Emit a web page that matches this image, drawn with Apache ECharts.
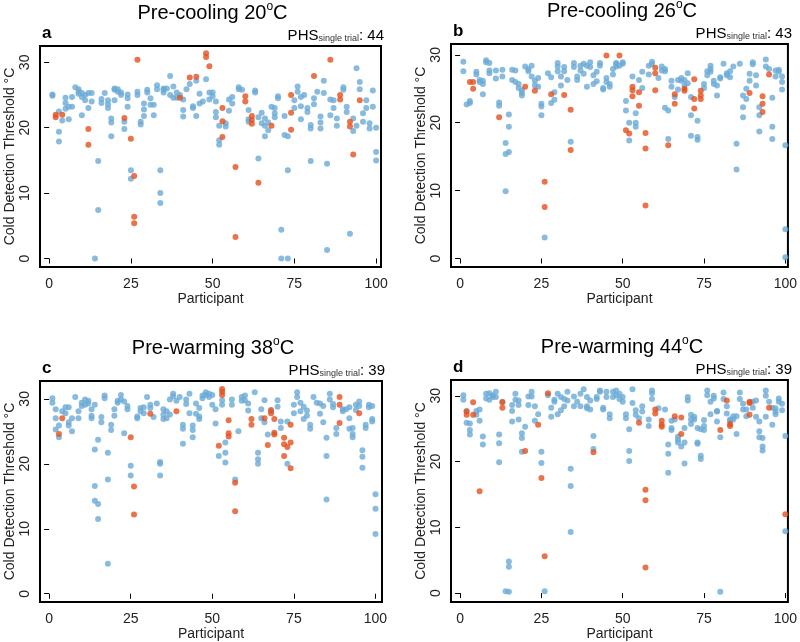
<!DOCTYPE html>
<html>
<head>
<meta charset="utf-8">
<script src="https://cdn.jsdelivr.net/npm/echarts@6/dist/echarts.min.js"></script>
<style>
  html, body { margin: 0; background: #fff; }
  #chart { width: 800px; height: 642px; }
</style>
</head>
<body>
<div id="chart"></div>
<script>
// rows are [participant, trial values...]
const cool20Blue = [
  [1,25.1,24.9],[3,22.5,19.4,17.9],[4,21.1],[5,24.6,23.8,22.9],[6,23.2,21.3],[7,24.7,23.2],[8,26.2],
  [9,25.9,25.5,25.2],[10,25.3,24.7,21.9],[11,25,24.2],[12,25.3,23],[13,25.3,24],[14,0],[15,14.9,7.4],
  [16,24.4,23.8],[17,25.3],[18,24.2,23.6,23],[19,21.4,20.8,18.7],[20,26,24.2,25.8],[21,25.9,25.5],
  [22,25.4,25],[23,20.9,19.8],[24,25.1,24.5,23.2],[25,13.5,12.2],[27,25.5,25],[28,20.9,20.5],
  [29,23.7,22.8,21.8],[30,25.8,25.4],[31,24.5,23.5],[32,21.9,23.5],[33,26.5,25.9],[34,13.5,10,8.5],
  [35,26,25.8,25.4],[36,26],[37,27.9,25],[38,26.3,24.6],[39,25.4,24.6],[40,25],[41,22.7,21.7,24.3],
  [42,25.9],[43,26.7],[44,23.3,23],[45,27.2,21.8],[46,25.2,23.7],[47,24],[48,27.4],[49,25.4,24.3],
  [50,25.4,24.8],[51,24,22.4,21.6],[52,20.3,18.1,17.4],[54,20.7,20.2],[55,24.3,22.6],[56,24.7,23.7],
  [58,26.2,25.9],[59,25.8],[61,22.7,21.3,20.9],[63,25.7,25.4],[64,21.6,15.3],[65,22.3,20.7],
  [66,21.4,20.3,18.7],[67,20.8,19.6],[68,23.2],[69,23,22.2,21.6],[70,24.8,24.5],[71,4.4,0],
  [72,21.8,18.9],[73,18.7,13.5,0],[75,24.2,23],[76,26.3,25.5],[77,24.7,23.3,21.3],[78,25],
  [79,23,22.4],[80,20.4,19.9,14.9],[81,24.5,23.6],[82,25.5],[83,21.7,20.8,19.9],[84,27.2,25.3],
  [85,14.5,1.3],[86,21.9,24.3],[87,24.2,23],[88,21.4,20.3],[90,26.2,25.8],[91,23.2,22.4],[92,3.8],
  [93,21.4,19.5],[94,29.1,20.3],[95,27,25.9],[96,22.2,20.9],[97,24.2,23],[98,20.7,19.9],
  [99,25.7,23.2],[100,20,16.3,15]
];
const cool20Red = [
  [2,22,21.6],[4,22],[12,19.8,17.4],[23,21.5],[25,18.3],[26,12.6,6.4,5.4],[27,30.4],[40,24.6],
  [43,27.7],[45,27.8],[48,31.4,30.8],[49,29.4],[53,23,21,18.6],[57,14,3.3],[60,24.8,24],
  [62,21.8,21.2,20.6],[64,11.6],[68,20.3],[74,25,22.3,19.7],[81,27.9],[86,30.4],[89,25,24.3],
  [92,20.9,20.2],[93,15.9],[95,24.2]
];
const cool26Blue = [
  [1,29,27.6],[2,22.7],[3,22.9,23.2],[5,27.5,27.1],[6,26.3,26],[7,26.2,25.7,24.2],[8,29.2,28.9],
  [9,28.8,27.7,27.3],[11,27.7,26.5],[12,23,22.5],[13,27.8,26.8],[14,17,15.4,9.9],[15,21.2,19.4,15.7],
  [16,27.8,26.3],[17,27.7,26],[18,25.7,25.1],[19,24.8,24.4,24],[20,28.3],[21,27.9,27.6],[22,28.4,26.8],
  [23,26.2,25.5],[24,26.6,25.3],[25,22.8,22.4,21.1],[26,3.1],[27,27.3],[28,26.7,22.9],[29,24.5,23.4],
  [30,28.3,27.6,28.8],[31,26.8,25.5],[32,28.2,27.6],[33,26.3],[34,17.2],[35,28.8,28.2],[36,26.8,26.3],
  [37,28.4,27.7],[38,28.7,27.2],[39,28.4,25.3],[40,28.9,28.2],[41,27,25.7],[42,27.5,26.1],
  [43,28.8,28.4],[44,25.1,24.9],[45,26,26.6],[46,25.7,25.3],[47,27.9,27.1],[48,28.7,28.3,28.8],
  [49,28.4],[50,28.9,28.7],[51,23.2,21.8],[52,20,17.4],[53,26.8],[54,21.4,20,19.4],[55,26.3],
  [56,27.5,25.1],[58,28.4,27.1],[59,29,28.6],[61,26.6],[62,28.3,27.7],[63,27.9,27.6,22.2],
  [64,21.8,17.6],[65,26.2,25.3],[66,23.8],[67,26.3,24.9],[68,26.6,26.2],[69,26.3,25.5],[70,27.3,25.8],
  [71,23.8,21.1,18.1],[73,20.3,17.9,17.5],[75,25.7,25.1],[76,27,27.6],[77,27.9,27.5,28.4],[78,26.2,25.7],
  [79,24,25.5],[80,26.5,26.7],[81,28.7],[82,27,27.3],[83,27.6,26.7],[84,28.3],[85,16.9,13.1],[86,28.7],
  [87,24,22.3,20.8],[88,25,23.5],[89,27.2,26.2],[90,28.9,28.6],[91,27,25.5],[92,22.3,21.1,18.7],
  [94,29.3,28.3],[95,27.9],[96,23.7,19.4,17.6],[97,27.7,26.8],[98,27.8,27.5],[99,26.8,26,24.9],
  [100,16.7,4.3,0.2]
];
const cool26Red = [
  [3,26],[4,26,25],[12,20.8],[20,25.3],[23,24.7],[26,11.3,7.6],[28,24.2],[32,24.1],[34,21.9,16],
  [45,29.9],[49,29.9],[51,18.9],[52,18.4],[53,25.3,24.8,23.9],[55,24.5,22.5],[57,18.5,16.2,7.8],
  [60,28.1,27.3,24.8],[64,16.7],[66,24.2,22.8],[69,25,24.7],[72,26.4,23.5,22.1],[74,24.7,24,23.5],
  [89,24.4],[93,23.9,22.8,21.6],[95,27.1]
];
const warm38Blue = [
  [1,30.1,29.4],[2,28.4,27,25.3],[3,25.9,24.1],[4,28.1],[5,28.7,27.8],[6,28.7,26.4,25.9],[7,27,25],
  [8,30.3],[9,28.1,27],[10,29.4,28.9],[11,29.9,29.1],[12,29.7,29.3],[13,28.4,27.4,27],
  [14,29.1,22.2,16.6,14.3],[15,23.7,13.8,11.5],[16,27.2,26.4],[17,30.5,30.1],[18,21.7,17.6,4.6],
  [19,26,25.2],[20,28.4,27.4],[21,29.4,29.7],[22,30.6,29.9],[23,29.6,24.7],[24,28.9,28.4],
  [25,19.7,18.2],[27,27.3,27],[28,28.6,28.1],[29,27.8,28.7],[30,30.3],[31,29.1,28.6],[32,27.2],
  [33,29.3],[34,20.3,20,18.2],[35,28.4,27.6,26.9],[36,27,28.1],[37,27.6,29.9],[38,30.8,30.4],
  [39,29.7],[40,30.3],[41,26,25.4,23.1],[42,29.9,29.2],[43,30.8,27.8],[44,25.9,25.2,24.1],
  [45,29.3,27.7],[46,28.6,27.3,26.9],[47,30.1,30.5],[48,31,30.6],[49,30.8,30.3],[50,30.6,29.1],
  [51,28.4,26.2],[52,21.2],[53,29.8,29.1],[54,23.3,21.7,20.2],[56,29.9,29.1],[57,17.6],[58,25],
  [59,30.3,29.7],[60,30.5,29.8],[61,29.3,28.2],[63,31],[64,21.7,20.7,20],[65,28.4,27],[66,29.8,26.4],
  [67,24.5],[68,28.1],[70,29.8,28.8],[71,26.5,25.5],[73,26.5,20],[75,29.1,27.8],[76,31,30.3],
  [77,29.4,28.1],[78,28.8,26.9],[79,28.2,27.4],[80,26,25.4],[81,30.3],[82,29.4],[83,29.3,27.7],
  [84,28.9,26.4],[85,24,21.2,14.5],[86,30.8,29.9],[87,29.2,28.7],[88,25.5,24.6],[90,28.1,28.4],
  [91,28.4],[92,28.7,27,25.4],[93,25.5,24.6,24.1],[94,29.1,28.3],[95,29.6,28.9],[96,22.1,21.1,19.4],
  [97,26,25.5],[98,29.1,28.7],[99,28.9,26.9,26.5],[100,15.3,13.1,9.2]
];
const warm38Red = [
  [3,24.6],[4,27],[25,24.1],[26,16.5,12.2],[31,27.7],[39,28.1],[52,22.8],[53,31.5,31.1,30.6],
  [55,26.7,24.7,24.2],[57,17.1,12.7],[62,26.9,26],[66,27],[67,22.9],[68,28.3,27.8],[69,26.9,24.8,24.5],
  [72,24,23,21.2],[73,22.6],[74,26,23.3,19.3],[89,30.3,29.1,26.3],[95,27.8]
];
const warm44Blue = [
  [1,30.1,29.4],[2,27.7,25.9],[3,25.8,24.8,24.1],[5,27.1,27.7],[6,26.2,27.9],[7,23.8,22.6],
  [8,30.3,29.6],[9,30.4,29.4],[10,30.1,29.8],[11,30.6,29.8],[12,24.1,22.8,19.9],[13,29.1],[14,0.3],
  [15,4.8,4,0.2],[16,28.6,27.7,26.1],[17,30.3,29.4],[18,29.3,28.6,26.4],[19,24.3,23.6,21.5],[20,25.3],
  [21,29.9,28.6],[22,30.6,29.9],[23,28.4,26.2],[24,27.2],[25,21.5,19.8],[26,0.3],[27,30.1],
  [28,28.2,26.8],[29,29.1,29.4],[30,30.3,27.2],[31,29.8,27.8],[32,29.5,28.4],[33,30.6,29.3],
  [34,18.9,16.3,9.3],[35,29.9,28.4],[36,29.1],[37,30.3,28.4],[38,31],[39,29.8,28.4,28.1],[40,29.3,27.9],
  [41,23.9,21.9],[42,29.5,29.8],[43,30.8,30.6],[44,28.2,27.9],[45,30.6,29.8],[46,27.2,26.6],
  [47,30.6,29.8],[48,30.8,30.1],[49,30.3,29.5],[50,29.1,29.8],[51,27.2,26.6],[52,24.9,21.6,20.1],
  [53,31,28.9],[54,27.8,27.1],[55,26.6],[56,28.4,27.6],[58,26.4,25.4],[59,30.8,30.4,29.5],[61,28.1],
  [63,27.9],[64,22.6,21.2,18.3],[65,26.2,25.1,24.8],[66,26.4],[67,23.8,23.3,22.9],[68,22.3],
  [69,25.1,22.9,19.7],[70,29.8,29.3],[71,27.1,26.4,25.7],[72,26.8,26.4],[73,22.9,22.7,25.1],
  [74,20.9,20.4,24.9],[75,26.3,25.4,24.8],[76,30.8,30.1],[77,29.1,27.2],[78,30,29.6],[79,27.7,27.6,26.1],
  [80,23.7,0.2],[81,30.5,29.5],[82,27.3,28.4],[83,26.4,26.2],[84,26.9,26.4],[85,26.9,24.2],[86,30.5,29.5],
  [87,28.8,27.9],[88,27.9,26.9],[90,29.1,28.2],[91,29.3,26.8],[92,26.1,24.6,23.7],[93,23.6,22.3,21.7],
  [94,30.8,30,26.8],[95,29.1],[96,28.2,25.6],[97,28.1,27.6,27.2],[98,29.6,29.1],[99,28.8,27.8],
  [100,23.9,9.4]
];
const warm44Red = [
  [2,27.6,27.1],[4,29,27.1],[6,15.5],[13,29,28.2],[20,21.6],[24,25.6],[25,17.5],[26,5.6],[27,30.4],
  [41,21.4],[55,25.9],[57,15.7,14.1,3.9],[60,27.9,27.3],[62,26.2,25.6,25.3],[66,26.9],[68,26.7,24.2],
  [80,24.8],[82,29.3],[83,25.7,25.4],[89,29.1,28.9,27.1],[95,28.2],[100,12]
];

const titles = ['Pre-cooling 20', 'Pre-cooling 26', 'Pre-warming 38', 'Pre-warming 44'];
const letters = ['a', 'b', 'c', 'd'];
const phsCounts = [44, 43, 39, 39];
const xTicks = [0, 25, 50, 75, 100];
const yTicks = [0, 10, 20, 30];

const blueSets = [cool20Blue, cool26Blue, warm38Blue, warm44Blue];
const redSets = [cool20Red, cool26Red, warm38Red, warm44Red];

const FONT = 'Liberation Sans, Arial, sans-serif';
const BLUE = '#6aaad6';
const RED = '#e5501e';

// panel boxes in px and axis extents, as measured on the reference
const boxes = [
  { left: 40, top: 46, width: 341, height: 221 },
  { left: 451, top: 44, width: 338, height: 223 },
  { left: 40, top: 381, width: 342, height: 222 },
  { left: 451, top: 380, width: 338, height: 224 }
];
const xExt = [[-2.8, 101.5], [-2.8, 100.8], [-2.8, 102], [-2.8, 100.8]];
const yExt = [[-1.3, 32.5], [-1.25, 31.6], [-1.27, 32.75], [-1.35, 32.4]];

const toPoints = rows => rows.flatMap(([p, ...vals]) => vals.map(v => [p, v]));

const titleOpts = [];
boxes.forEach((b, i) => {
  const cx = b.left + b.width / 2 + 2;
  const right = b.left + b.width + 3;
  titleOpts.push({
    text: '{t|' + titles[i] + '}{s|o}{t|C}',
    left: cx, top: b.top - 45, textAlign: 'center', padding: 0,
    textStyle: {
      fontWeight: 'normal',
      rich: {
        t: { fontSize: 20, fontWeight: 'normal', fontFamily: FONT, color: '#000', lineHeight: 24 },
        s: { fontSize: 12, fontWeight: 'normal', fontFamily: FONT, color: '#000', verticalAlign: 'top', lineHeight: 14 }
      }
    }
  });
  titleOpts.push({
    text: letters[i],
    left: b.left + 2, top: b.top - 21, padding: 0,
    textStyle: { fontSize: 17, fontWeight: 'bold', fontFamily: FONT, color: '#000' }
  });
  titleOpts.push({
    text: '{b|PHS}{s|single trial}{b|: ' + phsCounts[i] + '}',
    left: right, top: b.top - 21, textAlign: 'right', padding: 0,
    textStyle: {
      fontWeight: 'normal',
      rich: {
        b: { fontSize: 15, fontWeight: 'normal', fontFamily: FONT, color: '#000', verticalAlign: 'bottom', lineHeight: 18 },
        s: { fontSize: 9, fontWeight: 'normal', fontFamily: FONT, color: '#333', verticalAlign: 'bottom', lineHeight: 12 }
      }
    }
  });
});

const option = {
  animation: false,
  backgroundColor: '#fff',
  title: titleOpts,
  grid: boxes.map(b => ({
    left: b.left, top: b.top, width: b.width, height: b.height,
    show: true, borderColor: '#000', borderWidth: 2, containLabel: false
  })),
  xAxis: boxes.map((b, i) => ({
    gridIndex: i, type: 'value', min: xExt[i][0], max: xExt[i][1],
    axisLine: { show: false },
    splitLine: { show: false },
    axisTick: { show: true, customValues: xTicks, length: 5, lineStyle: { color: '#000' } },
    axisLabel: { customValues: xTicks, fontSize: 14, fontFamily: FONT, color: '#222', margin: 10 },
    name: 'Participant', nameLocation: 'middle', nameGap: 25,
    nameTextStyle: { fontSize: 14, fontFamily: FONT, color: '#222' }
  })),
  yAxis: boxes.map((b, i) => ({
    gridIndex: i, type: 'value', min: yExt[i][0], max: yExt[i][1],
    axisLine: { show: false },
    splitLine: { show: false },
    axisTick: { show: true, customValues: yTicks, length: 5, lineStyle: { color: '#000' } },
    axisLabel: { customValues: yTicks, rotate: 90, fontSize: 14, fontFamily: FONT, color: '#222', margin: 8 },
    name: 'Cold Detection Threshold °C', nameLocation: 'middle', nameGap: 23,
    nameTextStyle: { fontSize: 14, fontFamily: FONT, color: '#222' }
  })),
  series: []
};

boxes.forEach((b, i) => {
  option.series.push({
    type: 'scatter', xAxisIndex: i, yAxisIndex: i, symbolSize: 6,
    itemStyle: { color: BLUE }, data: toPoints(blueSets[i]), silent: true
  });
  option.series.push({
    type: 'scatter', xAxisIndex: i, yAxisIndex: i, symbolSize: 6,
    itemStyle: { color: RED }, data: toPoints(redSets[i]), silent: true
  });
});

const chart = echarts.init(document.getElementById('chart'));
chart.setOption(option);
</script>
</body>
</html>
